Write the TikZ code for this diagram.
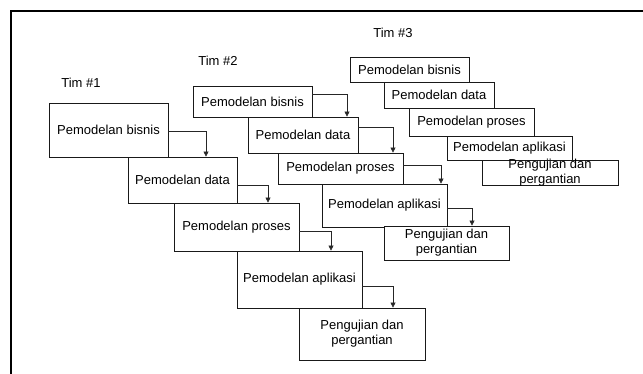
\documentclass[tikz,border=0pt]{standalone}
\usepackage{fontspec}
\setmainfont{Liberation Sans}
\usetikzlibrary{arrows.meta}
\begin{document}
\begin{tikzpicture}[x=1pt,y=-1pt,
  box/.style={draw=black!90,line width=0.8pt,fill=white,inner sep=0pt,
    minimum width=#1},
  lbl/.style={font=\fontsize{13}{15}\selectfont,align=center,inner sep=0pt},
  arr/.style={draw=black!85,line width=0.6pt,
    -{Triangle[length=5pt,width=5pt]}},
  frame/.style={line width=2pt,line cap=rect}]
\useasboundingbox (0,0) rectangle (643,374);

% open frame: top and left rules
\coordinate (ftop) at (643,11);
\coordinate (fcorner) at (11,11);
\coordinate (fbot) at (11,374);
\draw[frame] (ftop) -- (fcorner) -- (fbot);

% team headings
\node[lbl] (tim1) at (81,83) {Tim \#1};
\node[lbl] (tim2) at (218,61) {Tim \#2};
\node[lbl] (tim3) at (393,33) {Tim \#3};

% team 1
\node[box=119pt,minimum height=54pt] (b1) at (108.5,130) {};
\node[lbl] (b1t) at (b1) {Pemodelan bisnis};
\node[box=109pt,minimum height=46pt] (b2) at (182.5,180) {};
\node[lbl] (b2t) at (b2) {Pemodelan data};
\node[box=125pt,minimum height=48pt] (b3) at (236.5,227) {};
\node[lbl] (b3t) at (b3) {Pemodelan proses};
\node[box=125pt,minimum height=57pt] (b4) at (299.5,279.5) {};
\node[lbl] (b4t) at (b4) {Pemodelan aplikasi};
\node[box=126pt,minimum height=52pt] (b5) at (362,334) {};
\node[lbl] (b5t) at (b5) {Pengujian dan\\pergantian};

\draw[arr] ([yshift=-1pt]b1.east) -| ([xshift=23.5pt]b2.north);
\draw[arr] ([yshift=-5pt]b2.east) -| ([xshift=31.5pt]b3.north);
\draw[arr] ([yshift=-4pt]b3.east) -| ([xshift=31.5pt]b4.north);
\draw[arr] ([yshift=-6.5pt]b4.east) -| ([xshift=31pt]b5.north);

% team 2
\node[box=119pt,minimum height=31pt] (c1) at (252.5,101.5) {};
\node[lbl] (c1t) at (c1) {Pemodelan bisnis};
\node[box=110pt,minimum height=36pt] (c2) at (303,135) {};
\node[lbl] (c2t) at (c2) {Pemodelan data};
\node[box=125pt,minimum height=31pt] (c3) at (340.5,168.5) {};
\node[lbl] (c3t) at (c3) {Pemodelan proses};
\node[box=125pt,minimum height=43pt] (c4) at (384.5,205.5) {};
\node[lbl] (c4t) at (c4) {Pemodelan aplikasi};
\node[box=125pt,minimum height=34pt] (c5) at (446.5,243) {};
\node[lbl] (c5t) at (c5) {Pengujian dan\\pergantian};

\draw[arr] ([yshift=7.5pt]c1.east) -| ([xshift=44pt]c2.north);
\draw[arr] ([yshift=8pt]c2.east) -| ([xshift=52.5pt]c3.north);
\draw[arr] ([yshift=3.5pt]c3.east) -| ([xshift=56.5pt]c4.north);
\draw[arr] ([yshift=-2.5pt]c4.east) -| ([xshift=25.5pt]c5.north);

% team 3
\node[box=119pt,minimum height=25pt] (d1) at (409.5,69.5) {};
\node[lbl] (d1t) at (d1) {Pemodelan bisnis};
\node[box=110pt,minimum height=26pt] (d2) at (439,95) {};
\node[lbl] (d2t) at (d2) {Pemodelan data};
\node[box=125pt,minimum height=28pt] (d3) at (471.5,122) {};
\node[lbl] (d3t) at (d3) {Pemodelan proses};
\node[box=125pt,minimum height=24pt] (d4) at (509.5,148) {};
\node[lbl] (d4t) at (d4) {Pemodelan aplikasi};
\node[box=136pt,minimum height=25pt] (d5) at (550,172.5) {};
\node[lbl] (d5t) at (d5) {Pengujian dan\\pergantian};
\end{tikzpicture}
\end{document}
